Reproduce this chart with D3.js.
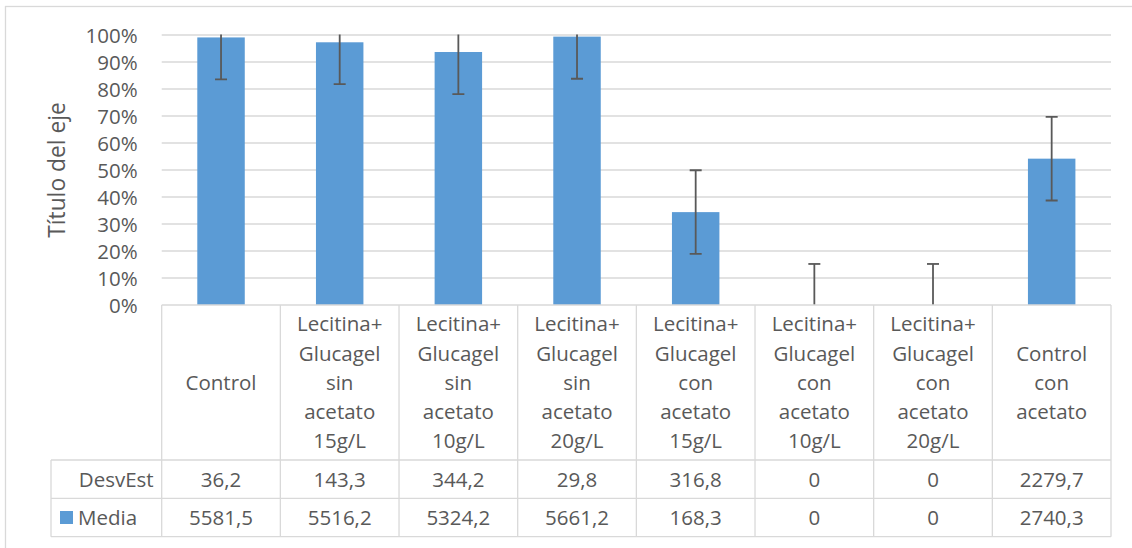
<!DOCTYPE html>
<html>
<head>
<meta charset="utf-8">
<script src="https://cdn.jsdelivr.net/npm/d3@7"></script>
<style>
  body { margin: 0; background: #fff; }
  text { font-family: "Open Sans", sans-serif; fill: #595959; }
</style>
</head>
<body>
<svg width="1132" height="548"></svg>
<script>
// chart data
var categories = ["Control",
  "Lecitina+ Glucagel sin acetato 15g/L",
  "Lecitina+ Glucagel sin acetato 10g/L",
  "Lecitina+ Glucagel sin acetato 20g/L",
  "Lecitina+ Glucagel con acetato 15g/L",
  "Lecitina+ Glucagel con acetato 10g/L",
  "Lecitina+ Glucagel con acetato 20g/L",
  "Control con acetato"];
var barValues = [0.991, 0.973, 0.937, 0.994, 0.344, 0, 0, 0.542];
var errValues = [0.155, 0.155, 0.156, 0.156, 0.155, 0.152, 0.152, 0.155];
var desvEst = [36.2, 143.3, 344.2, 29.8, 316.8, 0, 0, 2279.7];
var media = [5581.5, 5516.2, 5324.2, 5661.2, 168.3, 0, 0, 2740.3];
var yTicks = [0, 0.1, 0.2, 0.3, 0.4, 0.5, 0.6, 0.7, 0.8, 0.9, 1];

var svg = d3.select("svg"),
    plotLeft = 161.7, plotRight = 1111, plotTop = 35, plotBottom = 305,
    rowY = [305, 460, 498.3, 536.7],
    labelLeft = 51,
    barColor = "#5b9bd5", lineColor = "#d9d9d9", textColor = "#595959";

var loc = d3.formatLocale({decimal: ",", thousands: "", grouping: [3], currency: ["", ""]});
var fmt = function(d){ return d === 0 ? "0" : loc.format(".1f")(d); };

var x = d3.scaleBand().domain(categories).range([plotLeft, plotRight]);
var xBar = d3.scaleBand().domain(categories).range([plotLeft, plotRight])
    .paddingInner(0.6).paddingOuter(0.3);
var y = d3.scaleLinear().domain([0, 1]).range([plotBottom, plotTop]);

// chart border
svg.append("rect")
  .attr("x", 5.5).attr("y", 6.5)
  .attr("width", 1140).attr("height", 560)
  .attr("fill", "none").attr("stroke", lineColor).attr("stroke-width", 1.3);

// gridlines
svg.append("g").selectAll("line")
  .data(yTicks.filter(function(d){ return d > 0; }))
  .enter().append("line")
  .attr("x1", plotLeft).attr("x2", plotRight)
  .attr("y1", function(d){ return y(d); })
  .attr("y2", function(d){ return y(d); })
  .attr("stroke", lineColor).attr("stroke-width", 1.3);

// y axis labels
var yAxis = svg.append("g")
  .attr("transform", "translate(" + (plotLeft - 24) + ",0)")
  .call(d3.axisLeft(y).tickValues(yTicks).tickFormat(d3.format(".0%")).tickSize(0).tickPadding(0));
yAxis.select(".domain").remove();
yAxis.selectAll("text")
  .style("font-size", "20.5px")
  .style("font-family", "'Open Sans', sans-serif")
  .attr("fill", textColor)
  .attr("dy", "0.36em");

// axis title
svg.append("text")
  .attr("transform", "translate(65,170) rotate(-90)")
  .attr("text-anchor", "middle")
  .style("font-size", "22.8px")
  .text("Título del eje");

// bars
svg.append("g").selectAll("rect")
  .data(barValues)
  .enter().append("rect")
  .attr("x", function(d, i){ return xBar(categories[i]); })
  .attr("width", xBar.bandwidth())
  .attr("y", function(d){ return y(d); })
  .attr("height", function(d){ return y(0) - y(d); })
  .attr("fill", barColor);

// error bars, clipped to the plot area
svg.append("clipPath").attr("id", "plotclip")
  .append("rect").attr("x", plotLeft).attr("y", plotTop - 0.5)
  .attr("width", plotRight - plotLeft).attr("height", plotBottom - plotTop + 0.5);

var eb = svg.append("g").attr("clip-path", "url(#plotclip)")
  .selectAll("g")
  .data(barValues)
  .enter().append("g")
  .attr("transform", function(d, i){ return "translate(" + (x(categories[i]) + x.bandwidth() / 2) + ",0)"; });

eb.append("line")
  .attr("y1", function(d, i){ return y(d + errValues[i]); })
  .attr("y2", function(d, i){ return y(d - errValues[i]); })
  .attr("stroke", textColor).attr("stroke-width", 1.8);
eb.append("line")
  .attr("x1", -6).attr("x2", 6)
  .attr("y1", function(d, i){ return y(d + errValues[i]); })
  .attr("y2", function(d, i){ return y(d + errValues[i]); })
  .attr("stroke", textColor).attr("stroke-width", 1.8);
eb.append("line")
  .attr("x1", -6).attr("x2", 6)
  .attr("y1", function(d, i){ return y(d - errValues[i]); })
  .attr("y2", function(d, i){ return y(d - errValues[i]); })
  .attr("stroke", textColor).attr("stroke-width", 1.8);

// data table
var tbl = svg.append("g");
var hl = [
  [plotLeft, plotRight, rowY[0]],
  [labelLeft, plotRight, rowY[1]],
  [labelLeft, plotRight, rowY[2]],
  [labelLeft, plotRight, rowY[3]]
];
tbl.selectAll(".hline").data(hl).enter().append("line")
  .attr("x1", function(d){ return d[0]; }).attr("x2", function(d){ return d[1]; })
  .attr("y1", function(d){ return d[2]; }).attr("y2", function(d){ return d[2]; })
  .attr("stroke", lineColor).attr("stroke-width", 1.3);

var cols = categories.map(function(c){ return x(c); }).concat([plotRight]);
tbl.selectAll(".vline").data(cols).enter().append("line")
  .attr("x1", function(d){ return d; }).attr("x2", function(d){ return d; })
  .attr("y1", rowY[0]).attr("y2", rowY[3])
  .attr("stroke", lineColor).attr("stroke-width", 1.3);
tbl.append("line")
  .attr("x1", labelLeft).attr("x2", labelLeft)
  .attr("y1", rowY[1]).attr("y2", rowY[3])
  .attr("stroke", lineColor).attr("stroke-width", 1.3);

// category headers
var lineH = 29.2;
var hdr = tbl.selectAll(".hdr").data(categories).enter().append("text")
  .attr("text-anchor", "middle")
  .style("font-size", "20.5px");
hdr.each(function(c){
  var words = c.split(" ");
  var cy = (rowY[0] + rowY[1]) / 2 - (words.length - 1) * lineH / 2;
  var t = d3.select(this);
  words.forEach(function(w, k){
    t.append("tspan")
      .attr("x", x(c) + x.bandwidth() / 2)
      .attr("y", cy + k * lineH)
      .attr("dy", "0.36em")
      .text(w);
  });
});

// value rows
var rows = [desvEst, media];
rows.forEach(function(vals, r){
  var cy = (rowY[r + 1] + rowY[r + 2]) / 2;
  tbl.append("g").selectAll("text").data(vals).enter().append("text")
    .attr("x", function(d, i){ return x(categories[i]) + x.bandwidth() / 2; })
    .attr("y", cy).attr("dy", "0.36em")
    .attr("text-anchor", "middle")
    .style("font-size", "20.5px")
    .text(fmt);
});

tbl.append("text")
  .attr("x", plotLeft - 8).attr("y", (rowY[1] + rowY[2]) / 2).attr("dy", "0.36em")
  .attr("text-anchor", "end")
  .style("font-size", "20.5px")
  .text("DesvEst");

tbl.append("rect")
  .attr("x", 60).attr("y", 511).attr("width", 13).attr("height", 13)
  .attr("fill", barColor);
tbl.append("text")
  .attr("x", 78).attr("y", (rowY[2] + rowY[3]) / 2).attr("dy", "0.36em")
  .style("font-size", "20.5px")
  .text("Media");
</script>
</body>
</html>
